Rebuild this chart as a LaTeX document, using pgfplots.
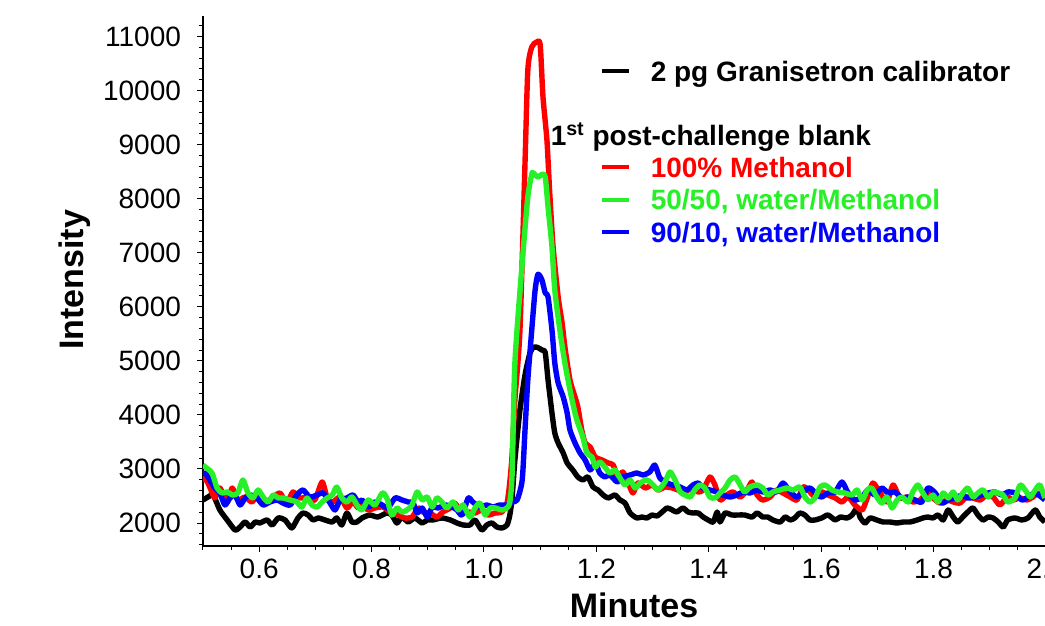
\documentclass[border=0pt]{standalone}
\usepackage{pgfplots}
\pgfplotsset{compat=1.18}
\usepackage{fontspec}
\setmainfont{Liberation Sans}

\definecolor{cRed}{RGB}{255,0,0}
\definecolor{cGreen}{RGB}{40,240,40}
\definecolor{cBlue}{RGB}{0,0,255}

\begin{document}
\begin{tikzpicture}
\begin{axis}[
  name=ax,
  scale only axis,
  width=427.1pt, height=265pt,
  xmin=0.5, xmax=2.02,
  ymin=1575, ymax=11380,
  axis x line=bottom, axis y line=left,
  axis line style={-, line width=0.6pt},
  tick align=outside,
  major tick length=3pt, minor tick length=2pt,
  tick style={black, line width=0.5pt},
  xtick={0.6,0.8,1.0,1.2,1.4,1.6,1.8,2.0},
  minor xtick={0.5,0.55,0.65,0.7,0.75,0.85,0.9,0.95,1.05,1.1,1.15,1.25,1.3,1.35,1.45,1.5,1.55,1.65,1.7,1.75,1.85,1.9,1.95},
  ytick={2000,3000,...,11000},
  minor ytick={1600,1800,...,11200},
  scaled y ticks=false,
  xticklabel style={/pgf/number format/fixed, /pgf/number format/fixed zerofill, /pgf/number format/precision=1},
  yticklabel style={/pgf/number format/1000 sep={}, xshift=-4.5pt},
  /pgf/number format/assume math mode=true,
  tick label style={font=\fontsize{14}{17}\selectfont},
  xlabel={Minutes}, ylabel={Intensity},
  label style={font=\fontsize{17}{20}\selectfont\bfseries},
  xlabel style={at={(axis description cs:0.5046,-0.1113)}, anchor=center},
  ylabel style={at={(axis description cs:-0.1498,0.502)}, anchor=center, rotate=0},
  legend cell align=left,
  legend image code/.code={\draw[#1] (0pt,0pt) -- (13.5pt,0pt);},
  legend style={draw=none, fill=none, inner sep=0pt, outer sep=0pt, row sep=2.7pt,
    nodes={inner sep=0pt, font=\fontsize{14}{17}\selectfont\bfseries},
    /tikz/every odd column/.append style={column sep=10pt},
    at={(axis description cs:0.4645,0.922)}, anchor=north west},
  every axis plot/.append style={line width=2.7pt, line join=round, smooth, tension=0.4},
]
% 2 pg calibrator
\addplot[black, forget plot] coordinates {
(0.500,2426) (0.509,2481) (0.518,2518) (0.530,2241) (0.543,2056) (0.557,1871) (0.566,1926) (0.575,2019)
(0.584,1926) (0.593,2019) (0.601,2000) (0.614,2056) (0.623,1963) (0.634,2093) (0.646,2056) (0.658,1908)
(0.669,2093) (0.678,2185) (0.687,2148) (0.696,2056) (0.705,2093) (0.717,2056) (0.730,2019) (0.738,2093)
(0.747,1963) (0.756,2185) (0.765,2019) (0.774,2019) (0.783,2093) (0.797,2148) (0.811,2111) (0.827,2185)
(0.836,2148) (0.845,2000) (0.854,2111) (0.865,2019) (0.877,2093) (0.890,2000) (0.899,2056) (0.909,2056)
(0.925,2093) (0.940,2056) (0.952,2000) (0.963,1963) (0.975,1963) (0.984,2056) (0.996,1871) (1.005,1963)
(1.014,2000) (1.023,1926) (1.032,1908) (1.041,1963) (1.046,2148) (1.050,2463) (1.055,3166) (1.064,4090)
(1.073,4738) (1.082,5150) (1.088,5250) (1.095,5250) (1.103,5200) (1.109,5150) (1.114,4646) (1.121,4035) (1.126,3665)
(1.132,3480) (1.141,3295) (1.148,3110) (1.158,2981) (1.167,2851) (1.176,2796) (1.185,2851) (1.194,2666)
(1.203,2611) (1.212,2518) (1.221,2463) (1.233,2518) (1.242,2426) (1.251,2370) (1.260,2185) (1.272,2093)
(1.281,2111) (1.290,2093) (1.299,2148) (1.308,2130) (1.317,2204) (1.326,2278) (1.335,2241) (1.343,2204)
(1.354,2278) (1.363,2204) (1.372,2185) (1.381,2185) (1.390,2111) (1.399,2056) (1.408,2019) (1.415,2204)
(1.420,2019) (1.429,2185) (1.441,2148) (1.452,2148) (1.464,2148) (1.477,2111) (1.486,2185) (1.496,2111)
(1.505,2111) (1.514,2056) (1.527,2019) (1.536,2111) (1.545,2056) (1.553,2093) (1.562,2185) (1.571,2148)
(1.580,2056) (1.589,2056) (1.601,2093) (1.612,2148) (1.625,2056) (1.634,2111) (1.646,2093) (1.655,2148)
(1.664,2278) (1.669,2111) (1.678,2000) (1.687,2093) (1.699,2056) (1.710,2019) (1.722,2019) (1.735,2000)
(1.746,2019) (1.758,2019) (1.771,2056) (1.781,2093) (1.790,2111) (1.799,2093) (1.808,2148) (1.817,2056)
(1.826,2241) (1.835,2111) (1.843,2019) (1.852,2111) (1.861,2204) (1.870,2278) (1.879,2148) (1.888,2056)
(1.897,2111) (1.906,2093) (1.915,2019) (1.924,1926) (1.932,2056) (1.945,2093) (1.957,2056) (1.968,2093)
(1.981,2241) (1.989,2111) (1.998,2019)
};
% 100% methanol
\addplot[cRed, forget plot] coordinates {
(0.500,2759) (0.504,2833) (0.512,2666) (0.521,2463) (0.530,2648) (0.543,2389) (0.552,2648) (0.562,2426)
(0.575,2481) (0.587,2389) (0.598,2518) (0.610,2389) (0.623,2463) (0.637,2555) (0.649,2370) (0.660,2574)
(0.673,2463) (0.687,2481) (0.699,2426) (0.712,2759) (0.721,2463) (0.731,2389) (0.744,2481) (0.756,2278)
(0.767,2389) (0.776,2278) (0.783,2333) (0.794,2241) (0.806,2278) (0.820,2296) (0.833,2204) (0.847,2148)
(0.859,2093) (0.872,2111) (0.883,2278) (0.891,2204) (0.904,2185) (0.916,2111) (0.927,2204) (0.940,2278)
(0.948,2370) (0.961,2185) (0.972,2204) (0.984,2185) (0.996,2241) (1.007,2148) (1.020,2185) (1.032,2204)
(1.041,2370) (1.046,2759) (1.050,3258) (1.055,4275) (1.064,5570) (1.073,8660) (1.078,10380) (1.085,10806)
(1.094,10900) (1.100,10850) (1.105,9880) (1.112,9086) (1.117,8105) (1.123,7106) (1.132,6181) (1.139,5700)
(1.144,5256) (1.153,4646) (1.162,4331) (1.167,4146) (1.174,3721) (1.180,3480) (1.189,3406) (1.198,3221)
(1.210,3166) (1.221,3110) (1.230,3073) (1.238,2851) (1.247,2944) (1.256,2759) (1.265,2555) (1.274,2740)
(1.287,2648) (1.299,2703) (1.310,2611) (1.322,2666) (1.335,2648) (1.345,2611) (1.358,2574) (1.370,2648)
(1.381,2574) (1.390,2611) (1.402,2851) (1.411,2703) (1.420,2426) (1.432,2518) (1.443,2574) (1.456,2481)
(1.468,2611) (1.477,2759) (1.486,2518) (1.496,2426) (1.509,2481) (1.521,2611) (1.532,2555) (1.545,2481)
(1.557,2426) (1.568,2666) (1.577,2611) (1.589,2481) (1.601,2574) (1.612,2518) (1.625,2463) (1.637,2389)
(1.648,2481) (1.660,2333) (1.673,2241) (1.682,2463) (1.692,2740) (1.705,2555) (1.717,2389) (1.728,2703)
(1.740,2463) (1.753,2481) (1.763,2389) (1.776,2426) (1.788,2555) (1.799,2463) (1.811,2370) (1.824,2426)
(1.835,2389) (1.847,2370) (1.859,2481) (1.870,2463) (1.883,2426) (1.895,2518) (1.906,2481) (1.918,2333)
(1.931,2481) (1.941,2426) (1.954,2463) (1.966,2426) (1.977,2481) (1.986,2555) (1.998,2463)
};
% 90/10 water/methanol
\addplot[cBlue, forget plot] coordinates {
(0.500,2888) (0.504,2925) (0.512,2796) (0.521,2648) (0.530,2555) (0.539,2333) (0.548,2463) (0.557,2518)
(0.566,2333) (0.575,2463) (0.584,2518) (0.596,2463) (0.607,2333) (0.619,2389) (0.632,2426) (0.642,2370)
(0.655,2333) (0.667,2518) (0.678,2611) (0.690,2481) (0.703,2518) (0.714,2555) (0.726,2370) (0.735,2241)
(0.744,2426) (0.756,2463) (0.767,2518) (0.776,2389) (0.783,2426) (0.794,2296) (0.806,2389) (0.819,2333)
(0.829,2278) (0.842,2463) (0.854,2426) (0.865,2389) (0.874,2370) (0.881,2185) (0.890,2278) (0.899,2111)
(0.908,2296) (0.918,2278) (0.931,2333) (0.943,2296) (0.952,2241) (0.961,2148) (0.972,2463) (0.980,2389)
(0.993,2296) (1.005,2333) (1.016,2296) (1.028,2333) (1.041,2333) (1.050,2389) (1.059,2426) (1.068,2796)
(1.073,3721) (1.078,4646) (1.085,5571) (1.091,6311) (1.096,6600) (1.103,6500) (1.109,6255) (1.114,6181)
(1.121,5571) (1.126,4960) (1.132,4590) (1.141,4331) (1.148,4035) (1.153,3721) (1.162,3480) (1.171,3295)
(1.180,3166) (1.189,2981) (1.198,3110) (1.206,2925) (1.215,2851) (1.224,2888) (1.237,2759) (1.247,2851)
(1.260,2888) (1.272,2925) (1.283,2888) (1.295,2944) (1.304,3073) (1.313,2833) (1.326,2740) (1.336,2703)
(1.349,2666) (1.361,2611) (1.372,2703) (1.381,2740) (1.390,2648) (1.402,2611) (1.415,2574) (1.425,2518)
(1.438,2481) (1.450,2518) (1.461,2574) (1.473,2555) (1.486,2611) (1.496,2574) (1.509,2611) (1.521,2574)
(1.532,2740) (1.545,2574) (1.557,2481) (1.568,2574) (1.580,2648) (1.593,2518) (1.601,2481) (1.612,2555)
(1.625,2574) (1.637,2759) (1.648,2555) (1.660,2426) (1.673,2481) (1.683,2611) (1.696,2518) (1.708,2648)
(1.719,2555) (1.731,2574) (1.744,2463) (1.755,2481) (1.767,2426) (1.779,2389) (1.790,2648) (1.803,2555)
(1.815,2370) (1.826,2426) (1.838,2463) (1.851,2518) (1.861,2463) (1.874,2481) (1.886,2518) (1.897,2555)
(1.909,2574) (1.922,2518) (1.932,2574) (1.945,2555) (1.957,2426) (1.968,2481) (1.981,2555) (1.998,2426)
};
% 50/50 water/methanol
\addplot[cGreen, forget plot] coordinates {
(0.500,3073) (0.504,3036) (0.516,2925) (0.525,2648) (0.534,2555) (0.543,2574) (0.553,2518) (0.562,2555)
(0.571,2796) (0.580,2555) (0.589,2463) (0.598,2611) (0.607,2481) (0.616,2389) (0.625,2518) (0.634,2463)
(0.642,2463) (0.655,2426) (0.667,2389) (0.676,2296) (0.685,2463) (0.694,2333) (0.703,2296) (0.712,2389)
(0.721,2463) (0.730,2518) (0.738,2666) (0.747,2463) (0.756,2389) (0.765,2481) (0.774,2333) (0.783,2241)
(0.794,2426) (0.806,2333) (0.819,2555) (0.827,2463) (0.836,2148) (0.845,2278) (0.854,2204) (0.863,2241)
(0.872,2333) (0.881,2574) (0.890,2426) (0.899,2481) (0.908,2296) (0.916,2463) (0.925,2389) (0.934,2278)
(0.945,2389) (0.954,2241) (0.963,2333) (0.975,2111) (0.984,2278) (0.993,2370) (1.002,2148) (1.011,2278)
(1.020,2278) (1.032,2241) (1.041,2278) (1.046,2389) (1.050,2888) (1.055,4960) (1.068,6810) (1.078,8031)
(1.085,8450) (1.087,8480) (1.096,8400) (1.103,8450) (1.109,8400) (1.114,7846) (1.121,7106) (1.126,6311)
(1.135,5571) (1.144,4960) (1.153,4461) (1.162,4035) (1.167,3850) (1.176,3591) (1.183,3295) (1.192,3221)
(1.198,3036) (1.206,3129) (1.215,3036) (1.224,2925) (1.233,2981) (1.242,2833) (1.251,2703) (1.260,2796)
(1.269,2648) (1.278,2740) (1.290,2796) (1.301,2703) (1.310,2611) (1.322,2759) (1.331,2944) (1.340,2796)
(1.349,2574) (1.358,2518) (1.367,2481) (1.375,2611) (1.384,2703) (1.393,2648) (1.402,2481) (1.411,2463)
(1.420,2555) (1.429,2648) (1.438,2796) (1.447,2851) (1.456,2703) (1.464,2574) (1.473,2666) (1.486,2703)
(1.496,2648) (1.505,2518) (1.514,2574) (1.527,2611) (1.539,2648) (1.550,2611) (1.562,2666) (1.571,2481)
(1.580,2389) (1.589,2463) (1.598,2666) (1.607,2703) (1.619,2611) (1.630,2574) (1.642,2555) (1.655,2518)
(1.664,2611) (1.673,2426) (1.682,2611) (1.690,2648) (1.699,2481) (1.708,2370) (1.717,2481) (1.726,2278)
(1.735,2426) (1.744,2481) (1.755,2389) (1.763,2574) (1.772,2703) (1.781,2555) (1.790,2426) (1.799,2518)
(1.808,2389) (1.817,2555) (1.826,2463) (1.835,2574) (1.843,2426) (1.852,2555) (1.861,2648) (1.870,2481)
(1.879,2555) (1.888,2611) (1.897,2481) (1.906,2574) (1.915,2555) (1.924,2518) (1.932,2389) (1.945,2463)
(1.954,2703) (1.963,2611) (1.972,2481) (1.981,2611) (1.989,2703) (1.998,2463)
};
\addlegendimage{black, line width=2pt}
\addlegendentry{\strut 2 pg Granisetron calibrator}
\addlegendimage{empty legend}
\addlegendentry{\strut}
\addlegendimage{empty legend}
\addlegendentry{\strut\hspace*{-50pt}1\textsuperscript{st} post-challenge blank}
\addlegendimage{cRed, line width=2pt}
\addlegendentry{\strut\textcolor{cRed}{100\% Methanol}}
\addlegendimage{cGreen, line width=2pt}
\addlegendentry{\strut\textcolor{cGreen}{50/50, water/Methanol}}
\addlegendimage{cBlue, line width=2pt}
\addlegendentry{\strut\textcolor{cBlue}{90/10, water/Methanol}}
\end{axis}
\pgfresetboundingbox
\path[use as bounding box] ([shift={(-101.5pt,-40pt)}]ax.south west) rectangle ([shift={(421pt,8pt)}]ax.north west);
\end{tikzpicture}
\end{document}
